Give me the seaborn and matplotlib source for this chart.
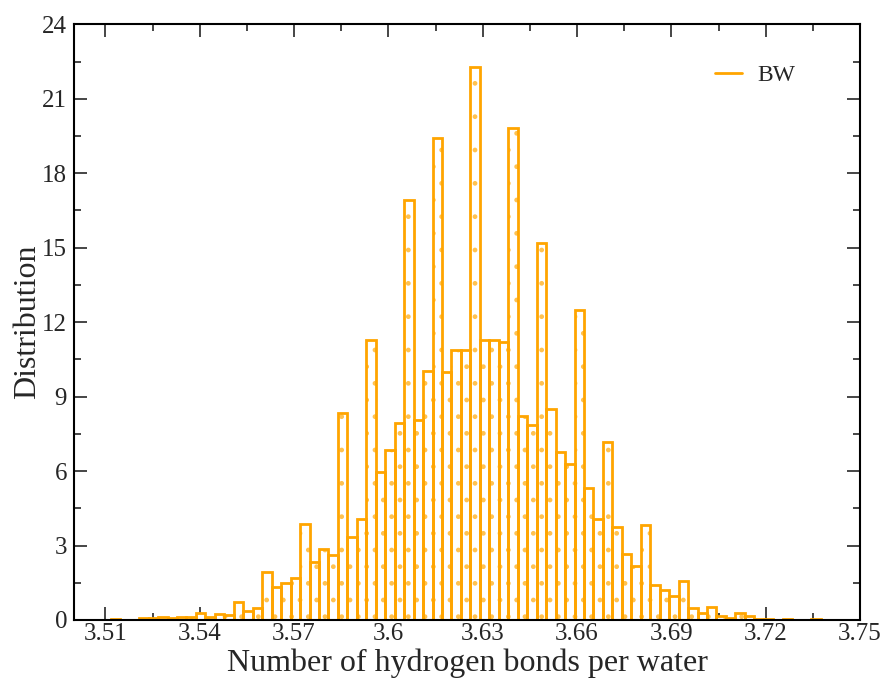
import pandas as pd
import matplotlib
matplotlib.use("Agg")
import matplotlib.pyplot as plt
from matplotlib.lines import Line2D
from matplotlib.ticker import MultipleLocator
import seaborn as sns

# histogram of hydrogen bonds per water (normalised distribution)
bin_start = 3.5117
bin_width = 0.00301
density = [
    0.05, 0.0, 0.0, 0.07, 0.08, 0.11, 0.06, 0.14, 0.14, 0.29,
    0.12, 0.26, 0.22, 0.74, 0.37, 0.50, 1.94, 1.32, 1.48, 1.68,
    3.87, 2.35, 2.85, 2.63, 8.32, 3.33, 4.07, 11.28, 5.97, 6.85,
    7.92, 16.94, 8.07, 10.03, 19.43, 9.98, 10.89, 10.89, 22.28, 11.30,
    11.27, 11.18, 19.81, 8.20, 7.86, 15.18, 8.50, 6.75, 6.30, 12.48,
    5.33, 4.07, 7.16, 3.76, 2.67, 2.17, 3.83, 1.42, 1.21, 0.95,
    1.57, 0.48, 0.30, 0.52, 0.17, 0.07, 0.30, 0.18, 0.04, 0.04,
    0.0, 0.04, 0.0, 0.0, 0.04,
]
series_name = "BW"
x_ticks = [3.51, 3.54, 3.57, 3.60, 3.63, 3.66, 3.69, 3.72, 3.75]
x_tick_labels = ["3.51", "3.54", "3.57", "3.6", "3.63", "3.66", "3.69", "3.72", "3.75"]
y_ticks = [0, 3, 6, 9, 12, 15, 18, 21, 24]

sns.set_style("ticks")
plt.rcParams['font.family'] = ['Liberation Serif', 'DejaVu Serif']
plt.rcParams['hatch.color'] = '#FFC250'
plt.rcParams['hatch.linewidth'] = 1.0

edges = [bin_start + bin_width * i for i in range(len(density) + 1)]
df = pd.DataFrame({'center': [e + bin_width / 2 for e in edges[:-1]],
                   'density': density})

fig = plt.figure(figsize=(8.85, 6.81), dpi=100)
ax = fig.add_axes([0.0836, 0.0896, 0.8882, 0.8747])

# dotted fill
sns.histplot(data=df, x='center', weights='density', bins=edges, stat='count',
             element='bars', fill=True, color='white', edgecolor='#FFC250',
             linewidth=0, hatch='.', alpha=1, ax=ax)
# outlines
sns.histplot(data=df, x='center', weights='density', bins=edges, stat='count',
             element='bars', fill=False, color='#FFA500', linewidth=2.0, ax=ax)

ax.set_xlim(3.50, 3.75)
ax.set_ylim(0, 24)
ax.set_xticks(x_ticks)
ax.set_xticklabels(x_tick_labels)
ax.set_yticks(y_ticks)
ax.xaxis.set_minor_locator(MultipleLocator(0.015))
ax.yaxis.set_minor_locator(MultipleLocator(1.5))

ax.tick_params(which='both', direction='in', top=True, right=True, width=1.2,
               labelsize=18)
ax.tick_params(which='major', length=9.5)
ax.tick_params(which='minor', length=5)
ax.tick_params(axis='x', pad=2)
ax.tick_params(axis='y', pad=5)
for s in ax.spines.values():
    s.set_linewidth(1.5)
    s.set_color('black')

ax.set_xlabel("Number of hydrogen bonds per water", fontsize=23, labelpad=3)
ax.set_ylabel("Distribution", fontsize=23, labelpad=0)

handle = Line2D([], [], color='#FFA500', linewidth=2.0)
ax.legend([handle], [series_name], loc='upper right', bbox_to_anchor=(0.944, 0.968),
          frameon=False, fontsize=17, handlelength=1.15, handletextpad=0.64)

plt.savefig("out.png", dpi=100)
